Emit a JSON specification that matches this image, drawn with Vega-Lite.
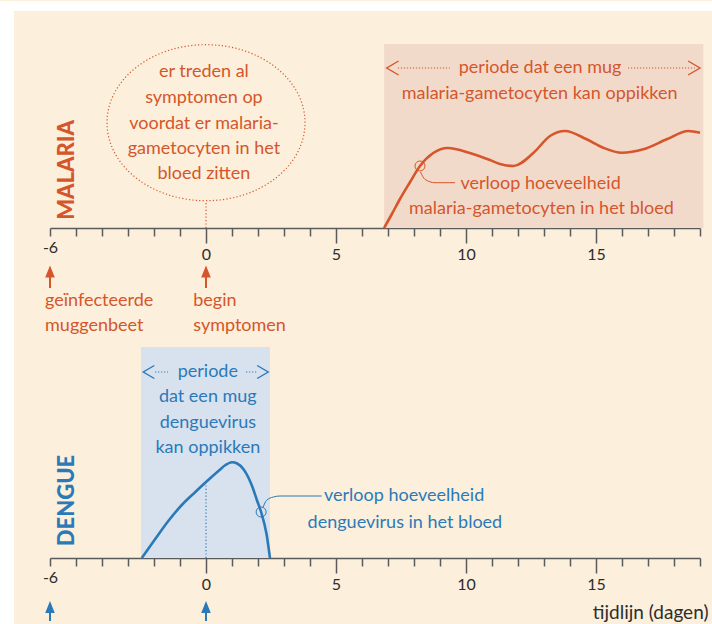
{
  "$schema": "https://vega.github.io/schema/vega-lite/v6.json",
  "background": "#fcefdb",
  "padding": 0,
  "autosize": {"type": "pad"},
  "bounds": "flush",
  "spacing": 119,
  "datasets": {
    "frame": [{"x": -7.923, "x2": 19.462, "y": 227, "y2": -397}],
    "margins": [{"x": -7.923, "x2": 19.462, "y": 227, "y2": 217}, {"x": -7.923, "x2": -7.385, "y": 227, "y2": -397}],
    "mal_window": [{"x": 6.85, "x2": 19.13, "y": 0, "y2": 184}],
    "mal_ellipse": [{"x": 0, "y": 105.3}],
    "mal_stem": [{"x": 0, "y": 0, "y2": 27}],
    "mal_dots": [{"x": 7.38, "x2": 9.38, "y": 160}, {"x": 16.23, "x2": 18.8, "y": 160}],
    "mal_chev": [{"x": 7.18, "y": 160, "dir": "left"}, {"x": 18.77, "y": 160, "dir": "right"}],
    "mal_labels": [
      {"x": -0.08, "y": 156.3, "text": "er treden al"},
      {"x": -0.08, "y": 130.3, "text": "symptomen op"},
      {"x": -0.08, "y": 104.3, "text": "voordat er malaria-"},
      {"x": -0.08, "y": 79.3, "text": "gametocyten in het"},
      {"x": -0.08, "y": 54.3, "text": "bloed zitten"},
      {"x": 12.85, "y": 160, "text": "periode dat een mug"},
      {"x": 12.83, "y": 134.3, "text": "malaria-gametocyten kan oppikken"},
      {"x": 12.87, "y": 44.3, "text": "verloop hoeveelheid"},
      {"x": 12.9, "y": 18.7, "text": "malaria-gametocyten in het bloed"}
    ],
    "mal_below": [
      {"x": -6.19, "y": -73, "text": "geïnfecteerde"},
      {"x": -6.19, "y": -98, "text": "muggenbeet"},
      {"x": -0.49, "y": -73, "text": "begin"},
      {"x": -0.49, "y": -98, "text": "symptomen"}
    ],
    "mal_title": [{"x": -5.35, "y": 58, "text": "MALARIA"}],
    "mal_curve": [
      {"x": 6.85, "y": 0}, {"x": 7.15, "y": 14}, {"x": 7.46, "y": 29}, {"x": 7.85, "y": 46},
      {"x": 8.23, "y": 62}, {"x": 8.74, "y": 75}, {"x": 9.3, "y": 80}, {"x": 10.15, "y": 75},
      {"x": 10.92, "y": 68}, {"x": 11.31, "y": 64}, {"x": 11.82, "y": 62}, {"x": 12.59, "y": 75},
      {"x": 13.23, "y": 92}, {"x": 13.81, "y": 97}, {"x": 14.64, "y": 88.7}, {"x": 15.28, "y": 80.3},
      {"x": 15.99, "y": 75.3}, {"x": 16.82, "y": 78.7}, {"x": 17.72, "y": 88.7}, {"x": 18.55, "y": 97},
      {"x": 19.0, "y": 95.3}
    ],
    "mal_leader": [{"x": 8.25, "y": 56}, {"x": 8.42, "y": 48.7}, {"x": 8.81, "y": 45.3}, {"x": 9.58, "y": 45.3}],
    "mal_marker": [{"x": 8.23, "y": 62}],
    "mal_shafts": [{"x": -6, "y": -60, "y2": -48}, {"x": 0, "y": -60, "y2": -48}],
    "mal_heads": [{"x": -6, "y": -43.5}, {"x": 0, "y": -43.5}],
    "den_window": [{"x": -2.5, "x2": 2.46, "y": 0, "y2": 211}],
    "den_stem": [{"x": 0, "y": 0, "y2": 72.7}],
    "den_curve": [
      {"x": -2.47, "y": 0}, {"x": -1.96, "y": 18.7}, {"x": -1.45, "y": 37}, {"x": -0.93, "y": 53},
      {"x": -0.42, "y": 65.8}, {"x": 0.0, "y": 76}, {"x": 0.5, "y": 87.5}, {"x": 0.75, "y": 93},
      {"x": 1.0, "y": 95.8}, {"x": 1.2, "y": 94.5}, {"x": 1.45, "y": 88.5}, {"x": 1.63, "y": 80.5},
      {"x": 1.8, "y": 70}, {"x": 1.95, "y": 58.5}, {"x": 2.12, "y": 46}, {"x": 2.33, "y": 23.7},
      {"x": 2.46, "y": 0}
    ],
    "den_leader": [{"x": 2.2, "y": 51}, {"x": 2.33, "y": 57.7}, {"x": 2.59, "y": 61}, {"x": 2.85, "y": 62}, {"x": 4.45, "y": 62}],
    "den_marker": [{"x": 2.12, "y": 46}],
    "den_dots": [{"x": -1.96, "x2": -1.46, "y": 186}, {"x": 1.54, "x2": 1.96, "y": 186}],
    "den_chev": [{"x": -2.2, "y": 186, "dir": "left"}, {"x": 2.18, "y": 186, "dir": "right"}],
    "den_labels": [
      {"x": 0.07, "y": 186.3, "text": "periode"},
      {"x": 0.07, "y": 161, "text": "dat een mug"},
      {"x": 0.07, "y": 135.3, "text": "denguevirus"},
      {"x": 0.07, "y": 110, "text": "kan oppikken"},
      {"x": 7.62, "y": 62, "text": "verloop hoeveelheid"},
      {"x": 7.65, "y": 35.3, "text": "denguevirus in het bloed"}
    ],
    "den_title": [{"x": -5.35, "y": 57.5, "text": "DENGUE"}],
    "den_shafts": [{"x": -6, "y": -63, "y2": -53}, {"x": 0, "y": -63, "y2": -53}],
    "den_heads": [{"x": -6, "y": -49}, {"x": 0, "y": -49}]
  },
  "vconcat": [
    {
      "width": 650,
      "height": 184,
      "encoding": {
        "x": {
          "field": "x", "type": "quantitative",
          "scale": {"domain": [-6, 19], "nice": false, "zero": false},
          "axis": {
            "values": [-6, -5, -4, -3, -2, -1, 0, 1, 2, 3, 4, 5, 6, 7, 8, 9, 10, 11, 12, 13, 14, 15, 16, 17, 18, 19],
            "labelExpr": "indexof([-6, 0, 5, 10, 15], datum.value) >= 0 ? '' + datum.value : ''",
            "tickSize": {"condition": {"test": "indexof([0, 5, 10, 15], datum.value) >= 0", "value": 15}, "value": 8},
            "title": null
          }
        },
        "y": {"field": "y", "type": "quantitative", "scale": {"domain": [0, 184], "nice": false, "zero": false}, "axis": null}
      },
      "layer": [
        {"data": {"name": "frame"}, "mark": {"type": "rect", "color": "#fcefdb", "opacity": 0}, "encoding": {"x2": {"field": "x2"}, "y2": {"field": "y2"}}},
        {"data": {"name": "margins"}, "mark": {"type": "rect", "color": "#ffffff"}, "encoding": {"x2": {"field": "x2"}, "y2": {"field": "y2"}}},
        {"data": {"name": "mal_window"}, "mark": {"type": "rect", "color": "#f2dacb"}, "encoding": {"x2": {"field": "x2"}, "y2": {"field": "y2"}}},
        {"data": {"name": "mal_ellipse"}, "mark": {"type": "point", "shape": "M-1,0A1,0.788,0,1,0,1,0A1,0.788,0,1,0,-1,0Z", "size": 39204, "filled": false, "stroke": "#d5562b", "strokeWidth": 1.2, "strokeDash": [1.2, 2.2], "opacity": 1}},
        {"data": {"name": "mal_stem"}, "mark": {"type": "rule", "color": "#d5562b", "strokeWidth": 1.2, "strokeDash": [1.2, 2.2]}, "encoding": {"y2": {"field": "y2"}}},
        {"data": {"name": "mal_dots"}, "mark": {"type": "rule", "color": "#d5562b", "strokeWidth": 1.2, "strokeDash": [1.2, 1.8]}, "encoding": {"x2": {"field": "x2"}}},
        {"data": {"name": "mal_chev"}, "mark": {"type": "point", "size": 196, "filled": false, "stroke": "#d5562b", "strokeWidth": 1.4, "opacity": 1}, "encoding": {"shape": {"field": "dir", "type": "nominal", "scale": {"domain": ["left", "right"], "range": ["M0.85,-1L-0.85,0L0.85,1", "M-0.85,-1L0.85,0L-0.85,1"]}, "legend": null}}},
        {"data": {"name": "mal_labels"}, "mark": {"type": "text", "font": "Lato", "fontSize": 18, "color": "#d5562b", "align": "center", "baseline": "middle"}, "encoding": {"text": {"field": "text"}}},
        {"data": {"name": "mal_below"}, "mark": {"type": "text", "font": "Lato", "fontSize": 18, "color": "#d5562b", "align": "left", "baseline": "middle"}, "encoding": {"text": {"field": "text"}}},
        {"data": {"name": "mal_title"}, "mark": {"type": "text", "font": "Lato", "fontSize": 22, "fontWeight": 900, "color": "#d5562b", "align": "center", "baseline": "middle", "angle": 270}, "encoding": {"text": {"field": "text"}}},
        {"data": {"name": "mal_curve"}, "mark": {"type": "line", "color": "#d5562b", "strokeWidth": 2.6, "interpolate": "monotone"}},
        {"data": {"name": "mal_leader"}, "mark": {"type": "line", "color": "#d5562b", "strokeWidth": 1, "interpolate": "monotone"}},
        {"data": {"name": "mal_marker"}, "mark": {"type": "point", "shape": "circle", "size": 100, "filled": false, "stroke": "#d5562b", "strokeWidth": 1, "opacity": 1}},
        {"data": {"name": "mal_shafts"}, "mark": {"type": "rule", "color": "#d5562b", "strokeWidth": 2}, "encoding": {"y2": {"field": "y2"}}},
        {"data": {"name": "mal_heads"}, "mark": {"type": "point", "shape": "M0,-1L0.8,1L-0.8,1Z", "size": 144, "filled": true, "color": "#d5562b", "opacity": 1}}
      ]
    },
    {
      "width": 650,
      "height": 211,
      "encoding": {
        "x": {
          "field": "x", "type": "quantitative",
          "scale": {"domain": [-6, 19], "nice": false, "zero": false},
          "axis": {
            "values": [-6, -5, -4, -3, -2, -1, 0, 1, 2, 3, 4, 5, 6, 7, 8, 9, 10, 11, 12, 13, 14, 15, 16, 17, 18, 19],
            "labelExpr": "indexof([-6, 0, 5, 10, 15], datum.value) >= 0 ? '' + datum.value : ''",
            "tickSize": {"condition": {"test": "indexof([0, 5, 10, 15], datum.value) >= 0", "value": 15}, "value": 8},
            "title": "tijdlijn (dagen)",
            "titleFont": "Lato",
            "titleFontSize": 19,
            "titleFontWeight": "normal",
            "titleColor": "#2d2d2d",
            "titleAlign": "right",
            "titleAnchor": "end",
            "titleBaseline": "alphabetic",
            "titleX": 658,
            "titleY": 60
          }
        },
        "y": {"field": "y", "type": "quantitative", "scale": {"domain": [0, 211], "nice": false, "zero": false}, "axis": null}
      },
      "layer": [
        {"data": {"name": "den_window"}, "mark": {"type": "rect", "color": "#d8e1ee"}, "encoding": {"x2": {"field": "x2"}, "y2": {"field": "y2"}}},
        {"data": {"name": "den_stem"}, "mark": {"type": "rule", "color": "#2a7ab9", "strokeWidth": 1.2, "strokeDash": [1.2, 2.2]}, "encoding": {"y2": {"field": "y2"}}},
        {"data": {"name": "den_dots"}, "mark": {"type": "rule", "color": "#2a7ab9", "strokeWidth": 1.2, "strokeDash": [1.2, 1.8]}, "encoding": {"x2": {"field": "x2"}}},
        {"data": {"name": "den_chev"}, "mark": {"type": "point", "size": 169, "filled": false, "stroke": "#2a7ab9", "strokeWidth": 1.4, "opacity": 1}, "encoding": {"shape": {"field": "dir", "type": "nominal", "scale": {"domain": ["left", "right"], "range": ["M0.9,-1L-0.9,0L0.9,1", "M-0.9,-1L0.9,0L-0.9,1"]}, "legend": null}}},
        {"data": {"name": "den_labels"}, "mark": {"type": "text", "font": "Lato", "fontSize": 18, "color": "#2a7ab9", "align": "center", "baseline": "middle"}, "encoding": {"text": {"field": "text"}}},
        {"data": {"name": "den_title"}, "mark": {"type": "text", "font": "Lato", "fontSize": 22, "fontWeight": 900, "color": "#2a7ab9", "align": "center", "baseline": "middle", "angle": 270}, "encoding": {"text": {"field": "text"}}},
        {"data": {"name": "den_curve"}, "mark": {"type": "line", "color": "#2a7ab9", "strokeWidth": 2.6, "interpolate": "monotone"}},
        {"data": {"name": "den_leader"}, "mark": {"type": "line", "color": "#2a7ab9", "strokeWidth": 1, "interpolate": "monotone"}},
        {"data": {"name": "den_marker"}, "mark": {"type": "point", "shape": "circle", "size": 100, "filled": false, "stroke": "#2a7ab9", "strokeWidth": 1, "opacity": 1}},
        {"data": {"name": "den_shafts"}, "mark": {"type": "rule", "color": "#2a7ab9", "strokeWidth": 2}, "encoding": {"y2": {"field": "y2"}}},
        {"data": {"name": "den_heads"}, "mark": {"type": "point", "shape": "M0,-1L0.8,1L-0.8,1Z", "size": 144, "filled": true, "color": "#2a7ab9", "opacity": 1}}
      ]
    }
  ],
  "config": {
    "view": {"stroke": null},
    "axis": {
      "zindex": 1,
      "domainColor": "#5b5b5b",
      "domainWidth": 1.6,
      "tickColor": "#5b5b5b",
      "tickWidth": 1.5,
      "labelColor": "#2d2d2d",
      "labelFont": "Lato",
      "labelFontSize": 16,
      "labelPadding": 3,
      "labelFlush": false,
      "labelOverlap": false,
      "grid": false
    }
  }
}
